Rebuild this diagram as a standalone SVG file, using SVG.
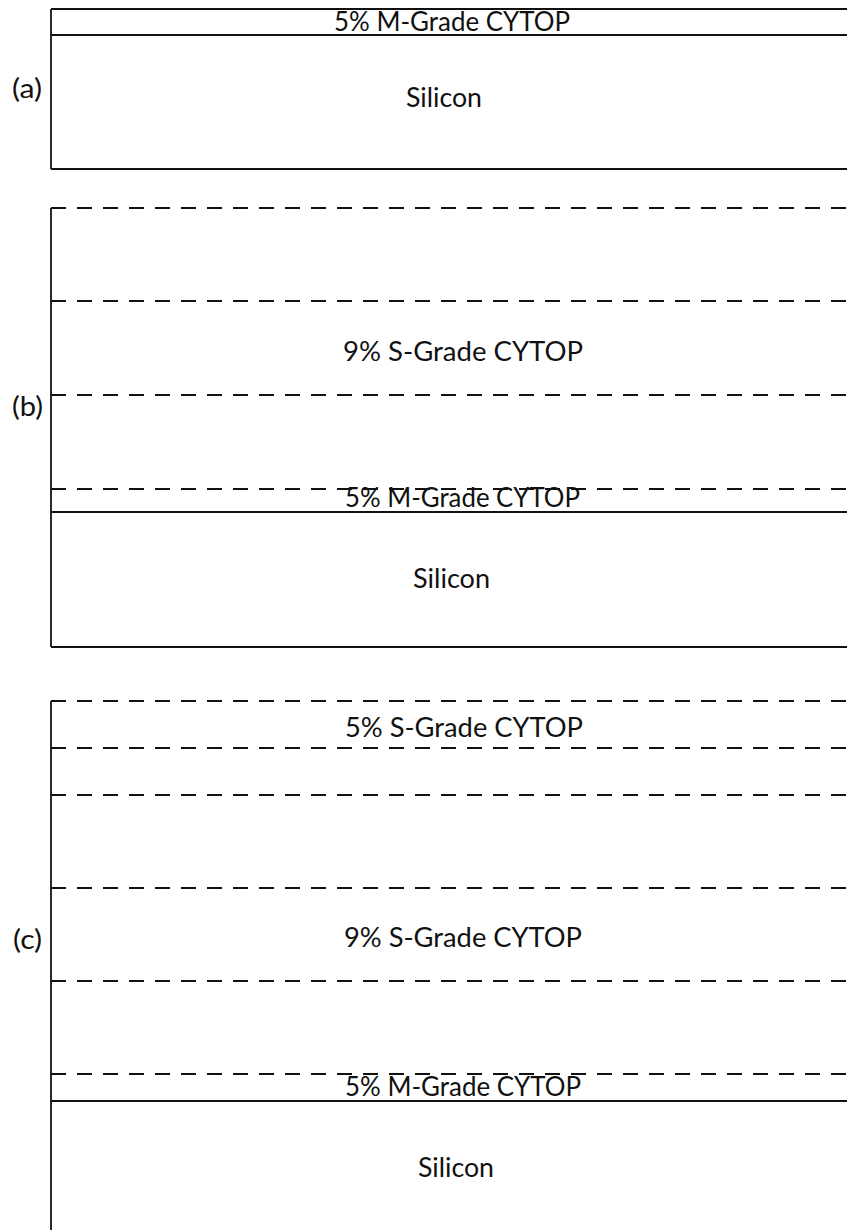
<svg xmlns="http://www.w3.org/2000/svg" width="847" height="1230" viewBox="0 0 847 1230">
<style>
.solid{stroke:#111;stroke-width:1.8;fill:none}
.dash{stroke:#111;stroke-width:1.8;fill:none;stroke-dasharray:15 11}
.t{font-family:Lato,"Open Sans","Liberation Sans",sans-serif;font-size:26px;fill:#111}
.lbl{font-family:Lato,"Open Sans","Liberation Sans",sans-serif;font-size:26px;fill:#111}
</style>
<rect x="0" y="0" width="847" height="1230" fill="#fff"/>
<g id="panel-a">
<line class="solid" x1="51" y1="9" x2="847" y2="9"/>
<line class="solid" x1="51" y1="35" x2="847" y2="35"/>
<line class="solid" x1="51" y1="169" x2="847" y2="169"/>
<line class="solid" x1="51" y1="9" x2="51" y2="169"/>
<text class="t" x="334" y="31" textLength="236" lengthAdjust="spacingAndGlyphs">5% M-Grade CYTOP</text>
<text class="t" x="406" y="107" textLength="76" lengthAdjust="spacingAndGlyphs">Silicon</text>
<text class="lbl" x="12" y="98" textLength="30" lengthAdjust="spacingAndGlyphs">(a)</text>
</g>
<g id="panel-b">
<line class="dash" x1="51" y1="208" x2="847" y2="208"/>
<line class="dash" x1="51" y1="301" x2="847" y2="301"/>
<line class="dash" x1="51" y1="395" x2="847" y2="395"/>
<line class="dash" x1="51" y1="489" x2="847" y2="489"/>
<line class="solid" x1="51" y1="512" x2="847" y2="512"/>
<line class="solid" x1="51" y1="647" x2="847" y2="647"/>
<line class="solid" x1="51" y1="208" x2="51" y2="647"/>
<text class="t" x="343" y="361" textLength="240" lengthAdjust="spacingAndGlyphs">9% S-Grade CYTOP</text>
<text class="t" x="345" y="507" textLength="235" lengthAdjust="spacingAndGlyphs">5% M-Grade CYTOP</text>
<text class="t" x="413" y="588" textLength="77" lengthAdjust="spacingAndGlyphs">Silicon</text>
<text class="lbl" x="12" y="416" textLength="31" lengthAdjust="spacingAndGlyphs">(b)</text>
</g>
<g id="panel-c">
<line class="dash" x1="51" y1="701" x2="847" y2="701"/>
<line class="dash" x1="51" y1="748" x2="847" y2="748"/>
<line class="dash" x1="51" y1="795" x2="847" y2="795"/>
<line class="dash" x1="51" y1="888" x2="847" y2="888"/>
<line class="dash" x1="51" y1="981" x2="847" y2="981"/>
<line class="dash" x1="51" y1="1074" x2="847" y2="1074"/>
<line class="solid" x1="51" y1="1101" x2="847" y2="1101"/>
<line class="solid" x1="51" y1="701" x2="51" y2="1230"/>
<text class="t" x="345" y="737" textLength="238" lengthAdjust="spacingAndGlyphs">5% S-Grade CYTOP</text>
<text class="t" x="344" y="947" textLength="238" lengthAdjust="spacingAndGlyphs">9% S-Grade CYTOP</text>
<text class="t" x="345" y="1096" textLength="236" lengthAdjust="spacingAndGlyphs">5% M-Grade CYTOP</text>
<text class="t" x="418" y="1177" textLength="76" lengthAdjust="spacingAndGlyphs">Silicon</text>
<text class="lbl" x="13" y="949" textLength="29" lengthAdjust="spacingAndGlyphs">(c)</text>
</g>
</svg>
